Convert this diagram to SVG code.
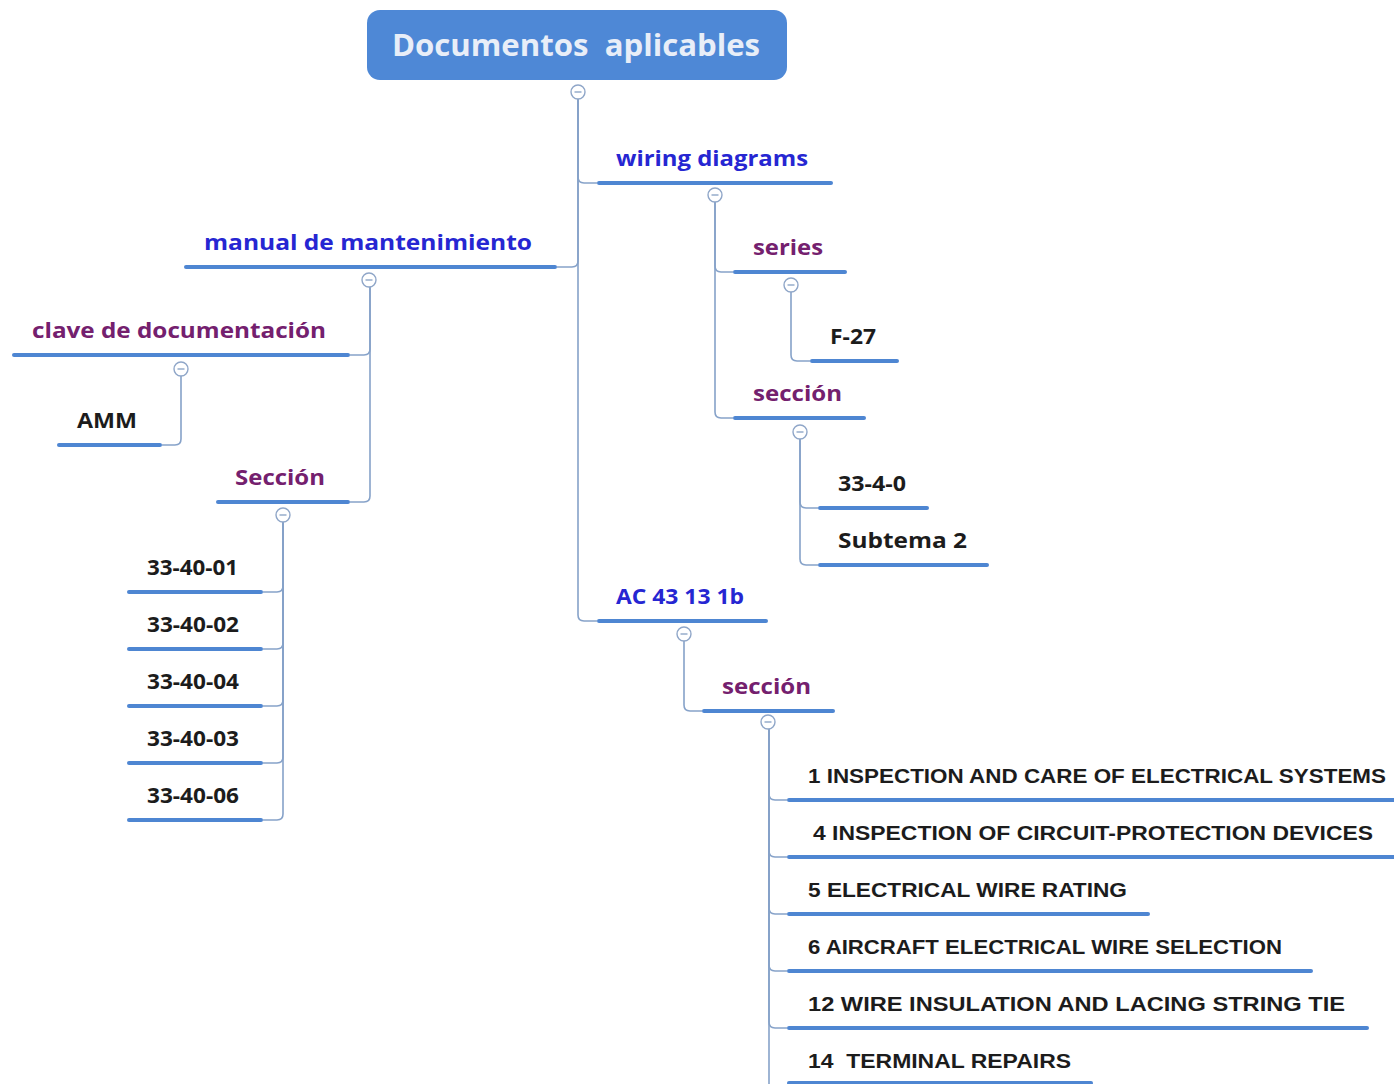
<svg xmlns="http://www.w3.org/2000/svg" width="1394" height="1084" viewBox="0 0 1394 1084">
<style>
.bg{fill:#ffffff}
.ul{stroke:#4e86d2;stroke-width:4;stroke-linecap:round;fill:none}
.cn{stroke:#86a2c9;stroke-width:1.6;fill:none}
.cc{fill:#ffffff;stroke:#8fa6c8;stroke-width:1.4}
.cm{stroke:#8fa6c8;stroke-width:1.4}
text{font-family:"Open Sans","DejaVu Sans",sans-serif;font-weight:700}
.root{fill:#e8eef8;font-size:30px}
.l1{fill:#2626d2;font-size:22px}
.l2{fill:#74206e;font-size:22px}
.l3{fill:#1c1c1c;font-size:21px}
.l4{fill:#1c1c1c;font-size:21px;font-family:"Liberation Sans","Open Sans",sans-serif}
</style>
<defs>
<g id="col"><circle r="7" class="cc"/><line x1="-3.5" y1="0" x2="3.5" y2="0" class="cm"/></g>
</defs>
<rect class="bg" width="1394" height="1084"/>
<g id="connectors">
<path class="cn" d="M578,99 V177 Q578,183 584,183 H597"/>
<path class="cn" d="M578,99 V261 Q578,267 572,267 H557"/>
<path class="cn" d="M578,99 V615 Q578,621 584,621 H597"/>
<path class="cn" d="M370,287 V349 Q370,355 364,355 H350"/>
<path class="cn" d="M370,287 V496 Q370,502 364,502 H350"/>
<path class="cn" d="M181,376 V439 Q181,445 175,445 H162"/>
<path class="cn" d="M283,522 V586 Q283,592 277,592 H263"/>
<path class="cn" d="M283,522 V643 Q283,649 277,649 H263"/>
<path class="cn" d="M283,522 V700 Q283,706 277,706 H263"/>
<path class="cn" d="M283,522 V757 Q283,763 277,763 H263"/>
<path class="cn" d="M283,522 V814 Q283,820 277,820 H263"/>
<path class="cn" d="M715,202 V266 Q715,272 721,272 H733"/>
<path class="cn" d="M715,202 V412 Q715,418 721,418 H733"/>
<path class="cn" d="M791,292 V355 Q791,361 797,361 H810"/>
<path class="cn" d="M800,439 V502 Q800,508 806,508 H818"/>
<path class="cn" d="M800,439 V559 Q800,565 806,565 H818"/>
<path class="cn" d="M684,641 V705 Q684,711 690,711 H702"/>
<path class="cn" d="M769,729 V794 Q769,800 775,800 H787"/>
<path class="cn" d="M769,729 V851 Q769,857 775,857 H787"/>
<path class="cn" d="M769,729 V908 Q769,914 775,914 H787"/>
<path class="cn" d="M769,729 V965 Q769,971 775,971 H787"/>
<path class="cn" d="M769,729 V1022 Q769,1028 775,1028 H787"/>
<path class="cn" d="M769,729 V1084"/>
</g>
<g id="root">
<rect x="367" y="10" width="420" height="70" rx="13" fill="#4e88d6"/>
<text class="root" x="392" y="56" textLength="368" lengthAdjust="spacingAndGlyphs" xml:space="preserve">Documentos  aplicables</text>
<use href="#col" x="578" y="92"/>
</g>
<g id="wiring">
<text class="l1" x="616" y="166" textLength="192" lengthAdjust="spacingAndGlyphs">wiring diagrams</text>
<line class="ul" x1="599" y1="183" x2="831" y2="183"/>
<use href="#col" x="715" y="195"/>
</g>
<g id="manual">
<text class="l1" x="204" y="250" textLength="328" lengthAdjust="spacingAndGlyphs">manual de mantenimiento</text>
<line class="ul" x1="186" y1="267" x2="555" y2="267"/>
<use href="#col" x="369" y="280"/>
</g>
<g id="ac">
<text class="l1" x="616" y="604" textLength="128" lengthAdjust="spacingAndGlyphs">AC 43 13 1b</text>
<line class="ul" x1="599" y1="621" x2="766" y2="621"/>
<use href="#col" x="684" y="634"/>
</g>
<g id="clave">
<text class="l2" x="32" y="338" textLength="294" lengthAdjust="spacingAndGlyphs">clave de documentación</text>
<line class="ul" x1="14" y1="355" x2="348" y2="355"/>
<use href="#col" x="181" y="369"/>
</g>
<g id="amm">
<text class="l3" x="77" y="428" textLength="60" lengthAdjust="spacingAndGlyphs">AMM</text>
<line class="ul" x1="59" y1="445" x2="160" y2="445"/>
</g>
<g id="seccion-manual">
<text class="l2" x="235" y="485" textLength="90" lengthAdjust="spacingAndGlyphs">Sección</text>
<line class="ul" x1="218" y1="502" x2="348" y2="502"/>
<use href="#col" x="283" y="515"/>
</g>
<g id="s01"><text class="l3" x="147" y="575" textLength="91" lengthAdjust="spacingAndGlyphs">33-40-01</text><line class="ul" x1="129" y1="592" x2="261" y2="592"/></g>
<g id="s02"><text class="l3" x="147" y="632" textLength="92" lengthAdjust="spacingAndGlyphs">33-40-02</text><line class="ul" x1="129" y1="649" x2="261" y2="649"/></g>
<g id="s04"><text class="l3" x="147" y="689" textLength="92" lengthAdjust="spacingAndGlyphs">33-40-04</text><line class="ul" x1="129" y1="706" x2="261" y2="706"/></g>
<g id="s03"><text class="l3" x="147" y="746" textLength="92" lengthAdjust="spacingAndGlyphs">33-40-03</text><line class="ul" x1="129" y1="763" x2="261" y2="763"/></g>
<g id="s06"><text class="l3" x="147" y="803" textLength="92" lengthAdjust="spacingAndGlyphs">33-40-06</text><line class="ul" x1="129" y1="820" x2="261" y2="820"/></g>
<g id="series">
<text class="l2" x="753" y="255" textLength="70" lengthAdjust="spacingAndGlyphs">series</text>
<line class="ul" x1="735" y1="272" x2="845" y2="272"/>
<use href="#col" x="791" y="285"/>
</g>
<g id="f27">
<text class="l3" x="830" y="344" textLength="46" lengthAdjust="spacingAndGlyphs">F-27</text>
<line class="ul" x1="812" y1="361" x2="897" y2="361"/>
</g>
<g id="seccion-wiring">
<text class="l2" x="753" y="401" textLength="89" lengthAdjust="spacingAndGlyphs">sección</text>
<line class="ul" x1="735" y1="418" x2="864" y2="418"/>
<use href="#col" x="800" y="432"/>
</g>
<g id="s3340">
<text class="l3" x="838" y="491" textLength="68" lengthAdjust="spacingAndGlyphs">33-4-0</text>
<line class="ul" x1="820" y1="508" x2="927" y2="508"/>
</g>
<g id="subtema2">
<text class="l3" x="838" y="548" textLength="129" lengthAdjust="spacingAndGlyphs">Subtema 2</text>
<line class="ul" x1="820" y1="565" x2="987" y2="565"/>
</g>
<g id="seccion-ac">
<text class="l2" x="722" y="694" textLength="89" lengthAdjust="spacingAndGlyphs">sección</text>
<line class="ul" x1="704" y1="711" x2="833" y2="711"/>
<use href="#col" x="768" y="722"/>
</g>
<g id="t1"><text class="l4" x="808" y="783" textLength="578" lengthAdjust="spacingAndGlyphs">1 INSPECTION AND CARE OF ELECTRICAL SYSTEMS</text><line class="ul" x1="789" y1="800" x2="1396" y2="800"/></g>
<g id="t4"><text class="l4" x="813" y="840" textLength="560" lengthAdjust="spacingAndGlyphs">4 INSPECTION OF CIRCUIT-PROTECTION DEVICES</text><line class="ul" x1="789" y1="857" x2="1396" y2="857"/></g>
<g id="t5"><text class="l4" x="808" y="897" textLength="319" lengthAdjust="spacingAndGlyphs">5 ELECTRICAL WIRE RATING</text><line class="ul" x1="789" y1="914" x2="1148" y2="914"/></g>
<g id="t6"><text class="l4" x="808" y="954" textLength="474" lengthAdjust="spacingAndGlyphs">6 AIRCRAFT ELECTRICAL WIRE SELECTION</text><line class="ul" x1="789" y1="971" x2="1311" y2="971"/></g>
<g id="t12"><text class="l4" x="808" y="1011" textLength="537" lengthAdjust="spacingAndGlyphs">12 WIRE INSULATION AND LACING STRING TIE</text><line class="ul" x1="789" y1="1028" x2="1367" y2="1028"/></g>
<g id="t14"><text class="l4" x="808" y="1068" textLength="263" lengthAdjust="spacingAndGlyphs" xml:space="preserve">14  TERMINAL REPAIRS</text><line class="ul" x1="789" y1="1083" x2="1091" y2="1083"/></g>
</svg>
